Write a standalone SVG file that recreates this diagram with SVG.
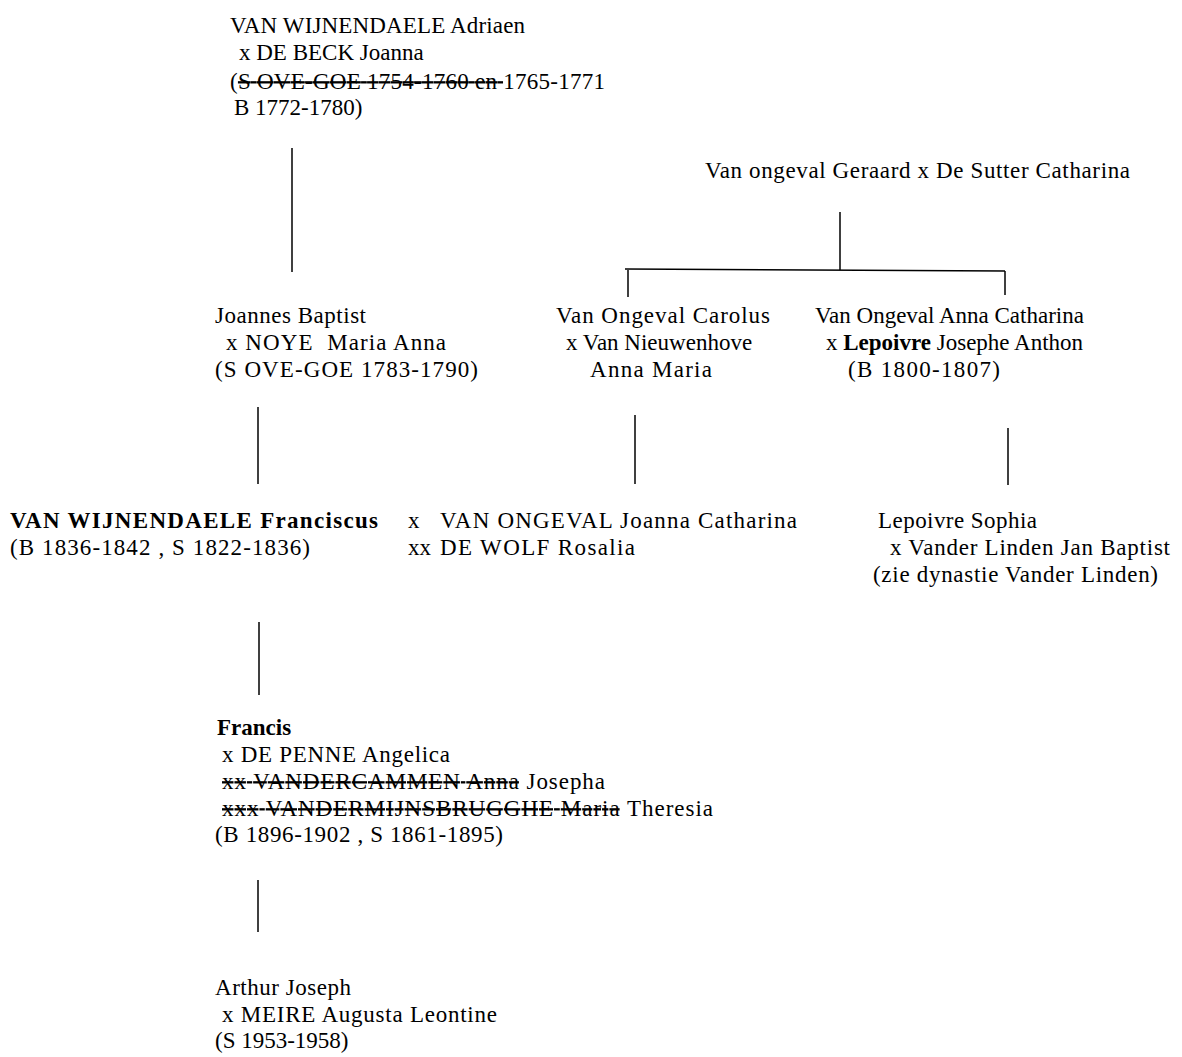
<svg xmlns="http://www.w3.org/2000/svg" width="1182" height="1057" viewBox="0 0 1182 1057">
<style>
text{font-family:"Liberation Serif","Times New Roman",serif;font-size:23px;fill:#000}
.b{font-weight:bold}
.s{text-decoration:line-through}
.c line{stroke:#000;stroke-width:1.5}
</style>
<rect width="1182" height="1057" fill="#fff"/>
<g id="n-adriaen">
<text x="230" y="33" textLength="295">VAN WIJNENDAELE Adriaen</text>
<text x="239" y="60">x DE BECK Joanna</text>
<text x="230" y="89" textLength="375">(<tspan class="s">S OVE-GOE 1754-1760 en </tspan>1765-1771</text>
<text x="234" y="115">B 1772-1780)</text>
</g>
<g id="n-geraard">
<text x="705" y="178" textLength="425">Van ongeval Geraard x De Sutter Catharina</text>
</g>
<g id="n-joannes">
<text x="215" y="323" textLength="151">Joannes Baptist</text>
<text x="226" y="350" textLength="220" xml:space="preserve">x NOYE  Maria Anna</text>
<text x="215" y="377" textLength="263">(S OVE-GOE 1783-1790)</text>
</g>
<g id="n-carolus">
<text x="556" y="323" textLength="214">Van Ongeval Carolus</text>
<text x="566" y="350">x Van Nieuwenhove</text>
<text x="590" y="377" textLength="122">Anna Maria</text>
</g>
<g id="n-annacath">
<text x="815" y="323">Van Ongeval Anna Catharina</text>
<text x="826" y="350">x <tspan class="b">Lepoivre</tspan> Josephe Anthon</text>
<text x="848" y="377" textLength="152">(B 1800-1807)</text>
</g>
<g id="n-franciscus">
<text x="10" y="528" class="b" textLength="368">VAN WIJNENDAELE Franciscus</text>
<text x="10" y="555" textLength="300">(B 1836-1842 , S 1822-1836)</text>
<text x="408" y="528">x</text>
<text x="440" y="528" textLength="357">VAN ONGEVAL Joanna Catharina</text>
<text x="408" y="555">xx</text>
<text x="440" y="555" textLength="195">DE WOLF Rosalia</text>
</g>
<g id="n-sophia">
<text x="878" y="528" textLength="159">Lepoivre Sophia</text>
<text x="890" y="555" textLength="280">x Vander Linden Jan Baptist</text>
<text x="873" y="582" textLength="285">(zie dynastie Vander Linden)</text>
</g>
<g id="n-francis">
<text x="217" y="735" class="b">Francis</text>
<text x="222" y="762" textLength="228">x DE PENNE Angelica</text>
<text x="222" y="789" textLength="383"><tspan class="s">xx VANDERCAMMEN Anna</tspan> Josepha</text>
<text x="222" y="816" textLength="491"><tspan class="s">xxx VANDERMIJNSBRUGGHE Maria</tspan> Theresia</text>
<text x="215" y="842" textLength="288">(B 1896-1902 , S 1861-1895)</text>
</g>
<g id="n-arthur">
<text x="215" y="995" textLength="136">Arthur Joseph</text>
<text x="222" y="1022" textLength="275">x MEIRE Augusta Leontine</text>
<text x="215" y="1048">(S 1953-1958)</text>
</g>
<g id="connectors" class="c">
<line x1="292" y1="148" x2="292" y2="272"/>
<line x1="840" y1="212" x2="840" y2="270"/>
<line x1="625" y1="269" x2="1005" y2="271"/>
<line x1="628" y1="270" x2="628" y2="297"/>
<line x1="1005" y1="271" x2="1005" y2="295"/>
<line x1="258" y1="407" x2="258" y2="484"/>
<line x1="635" y1="415" x2="635" y2="484"/>
<line x1="1008" y1="428" x2="1008" y2="485"/>
<line x1="259" y1="622" x2="259" y2="695"/>
<line x1="258" y1="880" x2="258" y2="932"/>
</g>
</svg>
